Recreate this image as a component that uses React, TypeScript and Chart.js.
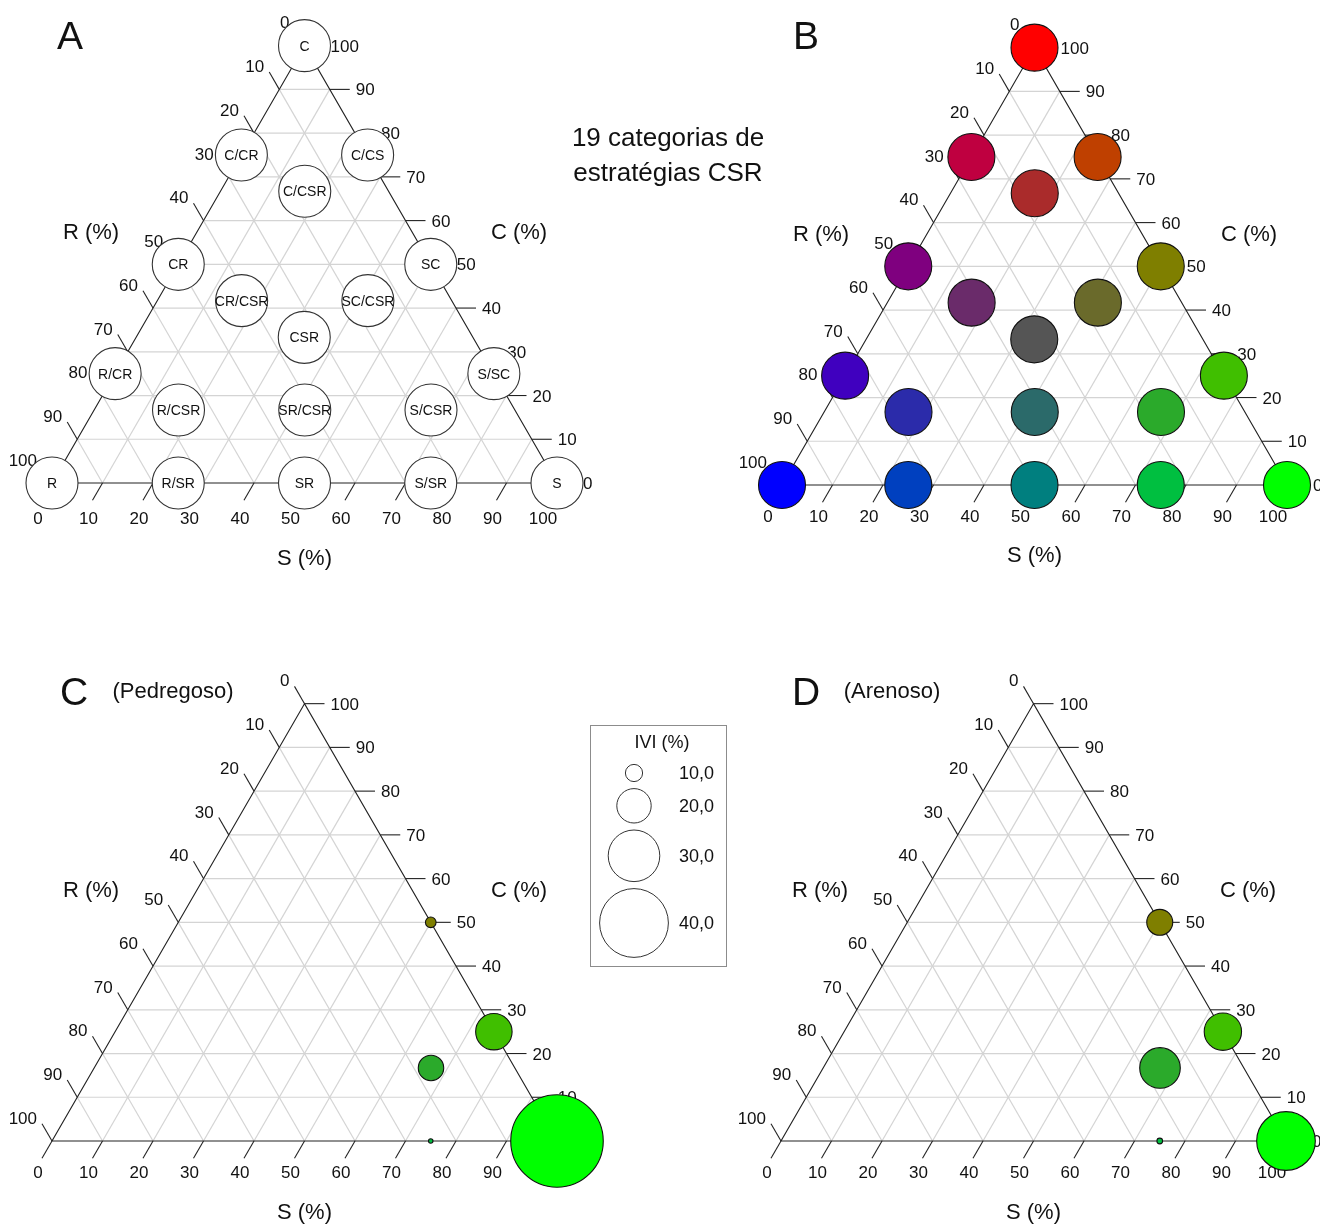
import { useEffect, useRef } from 'react';
import { Chart, registerables } from 'chart.js';

Chart.register(...registerables);

const FONT = '"Liberation Sans", Arial, sans-serif';
const H = Math.sqrt(3) / 2;

// the 19 CSR categories and their position in the triangle (%)
const categories = ['C', 'C/CR', 'C/CS', 'C/CSR', 'CR', 'SC', 'CR/CSR', 'SC/CSR', 'CSR', 'R/CR', 'S/SC', 'R/CSR', 'SR/CSR', 'S/CSR', 'R', 'R/SR', 'SR', 'S/SR', 'S'];
const compC = [100, 75, 75, 66.7, 50, 50, 41.7, 41.7, 33.3, 25, 25, 16.7, 16.7, 16.7, 0, 0, 0, 0, 0];
const compS = [0, 0, 25, 16.7, 0, 50, 16.7, 41.7, 33.3, 0, 75, 16.7, 41.7, 66.7, 0, 25, 50, 75, 100];
const compR = [0, 25, 0, 16.7, 50, 0, 41.7, 16.7, 33.3, 75, 0, 66.7, 41.7, 16.7, 100, 75, 50, 25, 0];

// IVI (%) per strategy in each soil
const soilCategories = ['SC', 'S/SC', 'S/CSR', 'S/SR', 'S'];
const pedregosoIVI = [6.2, 21.2, 14.8, 2.6, 53.8];
const arenosoIVI = [15.1, 21.7, 23.6, 3.3, 34.1];
const legendIVI = [10, 20, 30, 40];

const tickValues = [0, 10, 20, 30, 40, 50, 60, 70, 80, 90, 100];
const gridValues = [10, 20, 30, 40, 50, 60, 70, 80, 90];

const iviRadius = (v: number) => v * 0.86;

// colour of a category: C -> red, S -> green, R -> blue
const csrColour = (i: number) =>
  `rgb(${Math.round(compC[i] * 2.55)},${Math.round(compS[i] * 2.55)},${Math.round(compR[i] * 2.55)})`;

type Pt = { c: number; s: number; radius: number; color: string; label?: string };

const ternaryFrame = {
  id: 'ternaryFrame',
  beforeDatasetsDraw(chart: any, _args: any, opts: any) {
    const { ctx } = chart;
    const xs = chart.scales.x;
    const ys = chart.scales.y;
    const at = (c: number, s: number) => [xs.getPixelForValue(s / 100 + c / 200), ys.getPixelForValue((c / 100) * H)];
    const line = (a: number[], b: number[]) => {
      ctx.beginPath();
      ctx.moveTo(a[0], a[1]);
      ctx.lineTo(b[0], b[1]);
      ctx.stroke();
    };
    ctx.save();

    ctx.strokeStyle = '#d4d4d4';
    ctx.lineWidth = 1.2;
    gridValues.forEach((k) => {
      line(at(k, 0), at(k, 100 - k));
      line(at(0, k), at(100 - k, k));
      line(at(0, 100 - k), at(100 - k, 0));
    });

    ctx.strokeStyle = '#222';
    ctx.lineWidth = 1.1;
    const top = at(100, 0);
    const bl = at(0, 0);
    const br = at(0, 100);
    ctx.beginPath();
    ctx.moveTo(top[0], top[1]);
    ctx.lineTo(bl[0], bl[1]);
    ctx.lineTo(br[0], br[1]);
    ctx.closePath();
    ctx.stroke();

    ctx.fillStyle = '#111';
    ctx.font = `17px ${FONT}`;
    const fs = 17 * 0.358;
    tickValues.forEach((k) => {
      // R (left side)
      const p = at(100 - k, 0);
      const e = [p[0] - 10, p[1] - 17.3];
      line(p, e);
      ctx.textAlign = 'right';
      ctx.fillText(String(k), e[0] - 5, e[1] - 6 + fs);
      // C (right side)
      const q = at(k, 100 - k);
      const f = [q[0] + 20, q[1]];
      line(q, f);
      ctx.textAlign = 'left';
      ctx.fillText(String(k), f[0] + 6, q[1] + fs);
      // S (bottom)
      const r = at(0, k);
      const g = [r[0] - 10, r[1] + 17.3];
      line(r, g);
      ctx.textAlign = 'center';
      ctx.fillText(String(k), g[0] - 4, g[1] + opts.bottomGap + fs);
    });

    ctx.font = `22px ${FONT}`;
    const ts = 22 * 0.358;
    ctx.textAlign = 'center';
    ctx.fillText('R (%)', bl[0] + 39, bl[1] - 252 + ts);
    ctx.fillText('C (%)', br[0] - 38, br[1] - 252 + ts);
    ctx.fillText('S (%)', (bl[0] + br[0]) / 2, bl[1] + opts.titleGap + ts);
    ctx.restore();
  },
  afterDatasetsDraw(chart: any, _args: any, opts: any) {
    if (!opts.labels) return;
    const { ctx } = chart;
    const meta = chart.getDatasetMeta(0);
    ctx.save();
    ctx.fillStyle = '#111';
    ctx.font = `14px ${FONT}`;
    ctx.textAlign = 'center';
    meta.data.forEach((el: any, i: number) => {
      ctx.fillText(opts.labels[i], el.x, el.y + 14 * 0.358);
    });
    ctx.restore();
  },
};

function TernaryPanel({
  left, top, width, height, originX, originY, side, points, labelled, border, bottomGap, titleGap,
}: {
  left: number; top: number; width: number; height: number;
  originX: number; originY: number; side: number; points: Pt[]; labelled?: boolean; border: string;
  bottomGap: number; titleGap: number;
}) {
  const canvas = useRef<HTMLCanvasElement>(null);

  useEffect(() => {
    const current = canvas.current;
    if (!current) return;
    const blx = originX - left;
    const bly = originY - top;
    const chart = new Chart(current, {
      type: 'bubble',
      data: {
        datasets: [
          {
            data: points.map((p) => ({ x: p.s / 100 + p.c / 200, y: (p.c / 100) * H, r: p.radius })),
            backgroundColor: points.map((p) => p.color),
            borderColor: border,
            borderWidth: 1.1,
            clip: false,
          } as any,
        ],
      },
      options: {
        responsive: false,
        animation: false,
        events: [],
        layout: { padding: 0, autoPadding: false },
        scales: {
          x: { type: 'linear', display: false, min: -blx / side, max: (width - blx) / side },
          y: { type: 'linear', display: false, min: -(height - bly) / side, max: bly / side },
        },
        plugins: {
          legend: { display: false },
          tooltip: { enabled: false },
          ternaryFrame: {
            labels: labelled ? points.map((p) => p.label) : null,
            bottomGap,
            titleGap,
          },
        } as any,
      },
      plugins: [ternaryFrame],
    });
    return () => chart.destroy();
  }, []);

  return (
    <canvas
      ref={canvas}
      width={width}
      height={height}
      style={{ position: 'absolute', left, top, width, height }}
    />
  );
}

const legendBox = {
  id: 'legendBox',
  beforeDatasetsDraw(chart: any) {
    const { ctx, width, height } = chart;
    ctx.save();
    ctx.strokeStyle = '#8c8c8c';
    ctx.lineWidth = 1;
    ctx.strokeRect(0.5, 0.5, width - 1, height - 1);
    ctx.fillStyle = '#111';
    ctx.font = `18px ${FONT}`;
    ctx.textAlign = 'center';
    ctx.fillText('IVI (%)', 72, 17 + 18 * 0.358);
    ctx.restore();
  },
  afterDatasetsDraw(chart: any) {
    const { ctx } = chart;
    const meta = chart.getDatasetMeta(0);
    ctx.save();
    ctx.fillStyle = '#111';
    ctx.font = `18px ${FONT}`;
    ctx.textAlign = 'left';
    meta.data.forEach((el: any, i: number) => {
      ctx.fillText(legendIVI[i].toFixed(1).replace('.', ','), 89, el.y + 18 * 0.358);
    });
    ctx.restore();
  },
};

function SizeLegend({ left, top, width, height }: { left: number; top: number; width: number; height: number }) {
  const canvas = useRef<HTMLCanvasElement>(null);

  useEffect(() => {
    const current = canvas.current;
    if (!current) return;
    // stack the bubbles under the title
    let y = 48 - iviRadius(legendIVI[0]) - 7;
    let prev = 0;
    const data = legendIVI.map((v) => {
      const r = iviRadius(v);
      y += prev + 7 + r;
      prev = r;
      return { x: 44, y, r };
    });
    const chart = new Chart(current, {
      type: 'bubble',
      data: {
        datasets: [
          { data, backgroundColor: 'rgba(255,255,255,0)', borderColor: '#333', borderWidth: 1, clip: false } as any,
        ],
      },
      options: {
        responsive: false,
        animation: false,
        events: [],
        layout: { padding: 0, autoPadding: false },
        scales: {
          x: { type: 'linear', display: false, min: 0, max: width },
          y: { type: 'linear', display: false, min: 0, max: height, reverse: true },
        },
        plugins: { legend: { display: false }, tooltip: { enabled: false } },
      },
      plugins: [legendBox],
    });
    return () => chart.destroy();
  }, []);

  return (
    <canvas
      ref={canvas}
      width={width}
      height={height}
      style={{ position: 'absolute', left, top, width, height }}
    />
  );
}

function Label({ x, y, size, children }: { x: number; y: number; size: number; children: any }) {
  return (
    <div
      style={{
        position: 'absolute',
        left: x,
        top: y,
        transform: 'translate(-50%, -50%)',
        fontSize: size,
        lineHeight: 1,
        whiteSpace: 'nowrap',
        color: '#111',
      }}
    >
      {children}
    </div>
  );
}

const allPoints = (radius: number, coloured: boolean): Pt[] =>
  categories.map((label, i) => ({
    c: compC[i],
    s: compS[i],
    radius,
    color: coloured ? csrColour(i) : '#ffffff',
    label,
  }));

const soilPoints = (ivi: number[]): Pt[] =>
  soilCategories.map((cat, j) => {
    const i = categories.indexOf(cat);
    return { c: compC[i], s: compS[i], radius: iviRadius(ivi[j]), color: csrColour(i) };
  });

export default function App() {
  return (
    <div
      style={{
        position: 'absolute',
        left: 0,
        top: 0,
        width: 1320,
        height: 1224,
        background: '#fff',
        fontFamily: FONT,
        overflow: 'hidden',
      }}
    >
      <TernaryPanel left={0} top={0} width={660} height={612} originX={52} originY={483} side={505}
        points={allPoints(26, false)} labelled border="#333" bottomGap={17.5} titleGap={74} />
      <TernaryPanel left={660} top={0} width={660} height={612} originX={782} originY={485} side={505}
        points={allPoints(23.5, true)} border="#111" bottomGap={14} titleGap={69} />
      <TernaryPanel left={0} top={612} width={660} height={612} originX={52} originY={1141} side={505}
        points={soilPoints(pedregosoIVI)} border="#111" bottomGap={14} titleGap={70} />
      <TernaryPanel left={660} top={612} width={660} height={612} originX={781} originY={1141} side={505}
        points={soilPoints(arenosoIVI)} border="#111" bottomGap={14} titleGap={70} />
      <SizeLegend left={590} top={725} width={137} height={242} />

      <Label x={70} y={35} size={39}>A</Label>
      <Label x={806} y={35} size={39}>B</Label>
      <Label x={74} y={691} size={39}>C</Label>
      <Label x={806} y={691} size={39}>D</Label>
      <Label x={173} y={691} size={22}>(Pedregoso)</Label>
      <Label x={892} y={691} size={22}>(Arenoso)</Label>
      <Label x={668} y={137} size={26}>19 categorias de</Label>
      <Label x={668} y={172} size={26}>estratégias CSR</Label>
    </div>
  );
}
